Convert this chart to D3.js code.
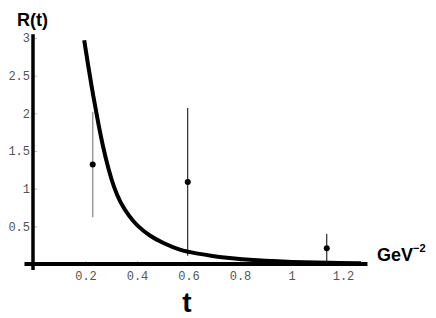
<!DOCTYPE html>
<html>
<head>
<meta charset="utf-8">
<script src="https://cdn.jsdelivr.net/npm/d3@7"></script>
<style>
  body { margin: 0; background: #fff; }
  .tick text { font-family: "Liberation Mono", "DejaVu Sans Mono", monospace; font-size: 12px; fill: #555; }
  .lbl { font-family: "Liberation Sans", Arial, sans-serif; font-weight: bold; fill: #000; }
</style>
</head>
<body>
<div id="graph"></div>
<script>
// data
var xTicks = [0.2, 0.4, 0.6, 0.8, 1, 1.2];
var yTicks = [0.5, 1, 1.5, 2, 2.5, 3];
var pointT = [0.228, 0.597, 1.137];
var pointR = [1.32, 1.09, 0.21];
var pointErr = [0.70, 0.98, 0.19];
var pointColor = ["#999", "#000", "#000"];
var curveT = [0.195, 0.21, 0.23, 0.25, 0.267, 0.289, 0.31, 0.334, 0.37, 0.40, 0.45, 0.50, 0.567, 0.63, 0.695, 0.75, 0.80, 0.90, 1.0, 1.1, 1.19, 1.27];
var curveR = [2.97, 2.64, 2.23, 1.86, 1.57, 1.26, 1.02, 0.82, 0.63, 0.51, 0.37, 0.28, 0.18, 0.14, 0.105, 0.082, 0.064, 0.041, 0.027, 0.018, 0.013, 0.01];

var W = 436, H = 318;
var svg = d3.select("#graph").append("svg").attr("width", W).attr("height", H);

var x = d3.scaleLinear().domain([0, 1.2]).range([34, 343]);
var y = d3.scaleLinear().domain([0, 3]).range([264, 38]);

// axes (tick labels)
var xAxis = svg.append("g").attr("transform", "translate(0," + y(0) + ")")
  .call(d3.axisBottom(x).tickValues(xTicks).tickSize(-3).tickPadding(6).tickFormat(function(d){ return d3.format("")(d); }));
xAxis.select(".domain").remove();
xAxis.selectAll(".tick line").attr("stroke", "#bbb");
xAxis.selectAll(".tick text").attr("dy", "0.85em");

var yAxis = svg.append("g").attr("transform", "translate(" + x(0) + ",0)")
  .call(d3.axisLeft(y).tickValues(yTicks).tickSize(-3).tickPadding(4).tickFormat(function(d){ return d3.format("")(d); }));
yAxis.select(".domain").remove();
yAxis.selectAll(".tick line").attr("stroke", "#bbb");

// thick axis lines
svg.append("line").attr("x1", x(-0.037)).attr("x2", x(1.295)).attr("y1", y(0)).attr("y2", y(0))
  .attr("stroke", "#000").attr("stroke-width", 4);
svg.append("line").attr("x1", x(0) - 1).attr("x2", x(0) - 1).attr("y1", y(3.05)).attr("y2", y(-0.08))
  .attr("stroke", "#000").attr("stroke-width", 3.5);

// error bars
pointT.forEach(function(t, i){
  svg.append("line")
    .attr("x1", x(t)).attr("x2", x(t))
    .attr("y1", y(pointR[i] + pointErr[i])).attr("y2", y(Math.max(0, pointR[i] - pointErr[i])))
    .attr("stroke", pointColor[i]).attr("stroke-width", i == 0 ? 1.5 : 1);
});

// curve
var curve = curveT.map(function(t, i){ return [t, curveR[i]]; });
svg.append("path")
  .attr("d", d3.line().x(function(d){ return x(d[0]); }).y(function(d){ return y(d[1]); }).curve(d3.curveBasis)(curve))
  .attr("fill", "none").attr("stroke", "#000").attr("stroke-width", 4);

// points
pointT.forEach(function(t, i){
  svg.append("circle").attr("cx", x(t)).attr("cy", y(pointR[i])).attr("r", 3).attr("fill", "#000");
});

// labels
svg.append("text").attr("class", "lbl").attr("x", 17).attr("y", 26).attr("font-size", 18).text("R(t)");
var gev = svg.append("text").attr("class", "lbl").attr("x", 377).attr("y", 261).attr("font-size", 18);
gev.append("tspan").text("GeV");
gev.append("tspan").attr("dy", -9).attr("font-size", 11).text("\u22122");
svg.append("text").attr("class", "lbl").attr("x", 187).attr("y", 312).attr("font-size", 28)
  .attr("text-anchor", "middle").text("t");
</script>
</body>
</html>
